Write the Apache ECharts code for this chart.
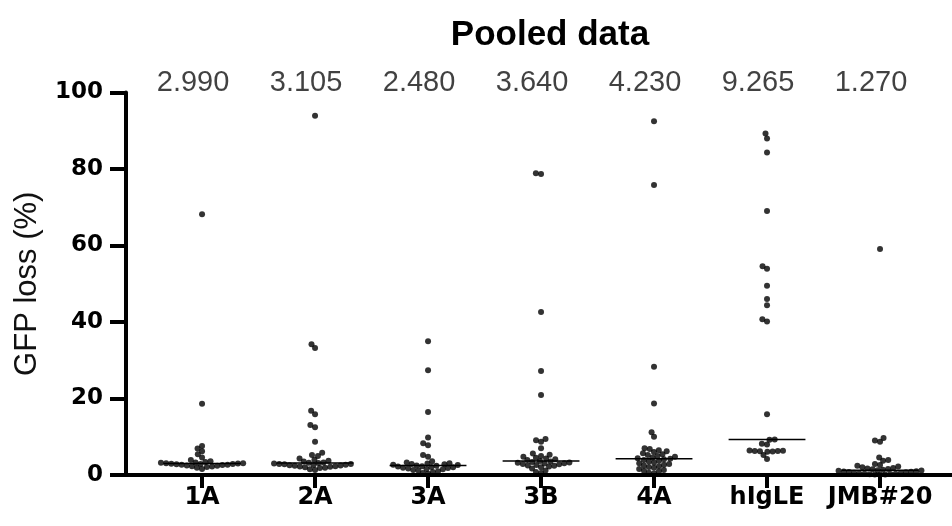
<!DOCTYPE html>
<html><head><meta charset="utf-8">
<script src="https://cdn.jsdelivr.net/npm/echarts@6/dist/echarts.min.js"></script>
<style>html,body{margin:0;padding:0;background:#fff}#c{width:952px;height:526px}</style>
</head><body><div id="c"></div>
<script>
var categories = ['1A','2A','3A','3B','4A','hIgLE','JMB#20'];
var medians = [2.990, 3.105, 2.480, 3.640, 4.230, 9.265, 1.270];
var yTicks = [0, 20, 40, 60, 80, 100];

var g1A = [68.2, 18.6, 7.6, 6.9, 6.2, 5.4, 4.6, 3.9, 3.6, 3.4, 3.3, 3.2, 3.1, 3.05, 2.99, 2.95, 2.9, 2.85, 2.8, 2.7, 2.65, 2.6, 2.5, 2.4, 2.3, 2.2, 2.1, 1.9, 1.6];
var g2A = [93.9, 34.2, 33.2, 16.8, 15.9, 13.1, 12.5, 8.7, 5.8, 5.2, 5.0, 4.3, 4.0, 3.7, 3.5, 3.3, 3.2, 3.105, 3.0, 2.9, 2.85, 2.8, 2.7, 2.6, 2.55, 2.5, 2.4, 2.3, 2.2, 2.15, 2.0, 1.9, 1.8, 1.5, 1.3];
var g3A = [35.0, 27.4, 16.5, 9.8, 8.3, 7.8, 5.2, 4.8, 3.6, 3.3, 3.1, 3.0, 2.9, 2.8, 2.7, 2.6, 2.48, 2.4, 2.3, 2.2, 2.1, 2.0, 1.9, 1.8, 1.7, 1.6, 1.5, 1.3, 1.2, 1.0, 0.8, 0.5, 0.3];
var g3B = [78.9, 78.7, 42.6, 27.2, 20.9, 9.4, 9.1, 8.7, 7.0, 5.6, 5.3, 5.0, 4.8, 4.5, 4.3, 4.1, 3.9, 3.64, 3.5, 3.4, 3.3, 3.2, 3.1, 3.0, 2.9, 2.8, 2.6, 2.5, 2.4, 2.2, 2.0, 1.7, 1.2, 0.8, 0.5];
var g4A = [92.5, 75.8, 28.3, 18.7, 11.2, 10.0, 7.0, 6.8, 6.5, 6.2, 6.0, 5.7, 5.4, 5.2, 5.0, 4.8, 4.6, 4.4, 4.23, 4.1, 3.9, 3.7, 3.5, 3.3, 3.1, 2.9, 2.7, 2.5, 2.3, 2.1, 1.9, 1.6, 1.3, 1.1, 0.9, 0.6, 0.4];
var gHIgLE = [89.3, 88.0, 84.3, 69.0, 54.6, 53.9, 49.5, 46.0, 44.4, 40.7, 40.1, 15.9, 9.265, 9.2, 8.2, 8.0, 6.4, 6.35, 6.3, 6.25, 6.2, 6.15, 6.1, 5.2, 4.2];
var gJMB = [59.1, 9.7, 9.0, 8.7, 4.6, 3.9, 3.7, 2.9, 2.6, 2.4, 2.2, 2.0, 1.8, 1.7, 1.6, 1.5, 1.4, 1.27, 1.2, 1.1, 1.0, 0.9, 0.85, 0.8, 0.7, 0.6, 0.5, 0.4, 0.35, 0.3, 0.25, 0.2, 0.15, 0.1, 0.05];
var groups = [g1A, g2A, g3A, g3B, g4A, gHIgLE, gJMB];

var W = 952, H = 526;
var grid = {left: 126, right: 0, top: 92.5, bottom: 51};
var xMin = -0.673, xMax = 6.637, yMin = 0, yMax = 100;
var pxX = (W - grid.left - grid.right) / (xMax - xMin);
var pxY = (H - grid.top - grid.bottom) / (yMax - yMin);
var D = 5.2; // dot collision spacing in px

// deterministic beeswarm layout (horizontal offsets only)
function swarm(vals) {
  var sorted = vals.slice().sort(function(a,b){return a-b;});
  var placed = [];
  sorted.forEach(function(v){
    var y = v * pxY;
    var cands = [0];
    var near = placed.filter(function(p){return Math.abs(p.y - y) < D;});
    near.forEach(function(p){
      var dx = Math.sqrt(D*D - (p.y-y)*(p.y-y));
      cands.push(p.x + dx + 0.01, p.x - dx - 0.01);
    });
    cands.sort(function(a,b){return Math.abs(a)-Math.abs(b) || a-b;});
    var x = 0;
    for (var k=0;k<cands.length;k++){
      var c = cands[k], ok = true;
      for (var j=0;j<near.length;j++){
        var p = near[j];
        if ((p.x-c)*(p.x-c)+(p.y-y)*(p.y-y) < D*D - 0.001){ok=false;break;}
      }
      if (ok){x=c;break;}
    }
    placed.push({x:x,y:y,v:v});
  });
  return placed;
}

var pts = [];
groups.forEach(function(vals, i){
  swarm(vals).forEach(function(p){ pts.push([i + p.x / pxX, p.v]); });
});

var chart = echarts.init(document.getElementById('c'), null, {renderer:'canvas'});
var idx = categories.map(function(_, i){return i;});
chart.setOption({
  animation: false,
  backgroundColor: '#fff',
  title: {
    text: 'Pooled data', left: 545, top: 13, textAlign: 'center',
    textStyle: {fontFamily: 'Liberation Sans, Arial, sans-serif', fontWeight: 'bold', fontSize: 35, color: '#000'}
  },
  grid: {left: grid.left, right: grid.right, top: grid.top, bottom: grid.bottom},
  xAxis: {
    type: 'value', min: xMin, max: xMax,
    splitLine: {show: false},
    axisLine: {show: true, onZero: false, lineStyle: {color: '#000', width: 4}},
    axisTick: {show: true, customValues: idx, length: 13, lineStyle: {color: '#000', width: 4}},
    axisLabel: {
      customValues: idx, margin: 11,
      formatter: function(v){ return categories[Math.round(v)]; },
      fontFamily: 'DejaVu Sans, sans-serif', fontWeight: 'bold', fontSize: 24, color: '#000'
    }
  },
  yAxis: {
    type: 'value', min: yMin, max: yMax, interval: 20,
    name: 'GFP loss (%)', nameLocation: 'middle', nameGap: 83,
    nameTextStyle: {fontFamily: 'Liberation Sans, Arial, sans-serif', fontSize: 31, color: '#111'},
    splitLine: {show: false},
    axisLine: {show: true, onZero: false, lineStyle: {color: '#000', width: 4}},
    axisTick: {show: true, length: 16, lineStyle: {color: '#000', width: 4}},
    axisLabel: {
      margin: 23,
      customValues: yTicks,
      fontFamily: 'DejaVu Sans, sans-serif', fontWeight: 'bold', fontSize: 23, color: '#000'
    }
  },
  series: [
    {
      type: 'custom', name: 'median', z: 3,
      data: medians.map(function(m, i){ return [i, m]; }),
      renderItem: function(params, api){
        var a = api.coord([api.value(0) - 0.34, api.value(1)]);
        var b = api.coord([api.value(0) + 0.34, api.value(1)]);
        return {type: 'line', shape: {x1: a[0], y1: a[1], x2: b[0], y2: b[1]}, style: {stroke: '#000', lineWidth: 1.5}};
      }
    },
    {
      type: 'scatter', name: 'points', z: 4,
      symbol: 'circle', symbolSize: 6,
      itemStyle: {color: '#000'},
      data: pts
    },
    {
      type: 'scatter', name: 'medianText', symbolSize: 0, clip: false, silent: true,
      data: medians.map(function(m, i){ return [i, yMax]; }),
      label: {
        show: true, position: 'top', distance: 0, offset: [-9, 5],
        formatter: function(p){ return medians[p.dataIndex].toFixed(3); },
        fontFamily: 'Liberation Sans, Arial, sans-serif', fontSize: 29, color: '#111'
      }
    }
  ]
});
</script></body></html>
